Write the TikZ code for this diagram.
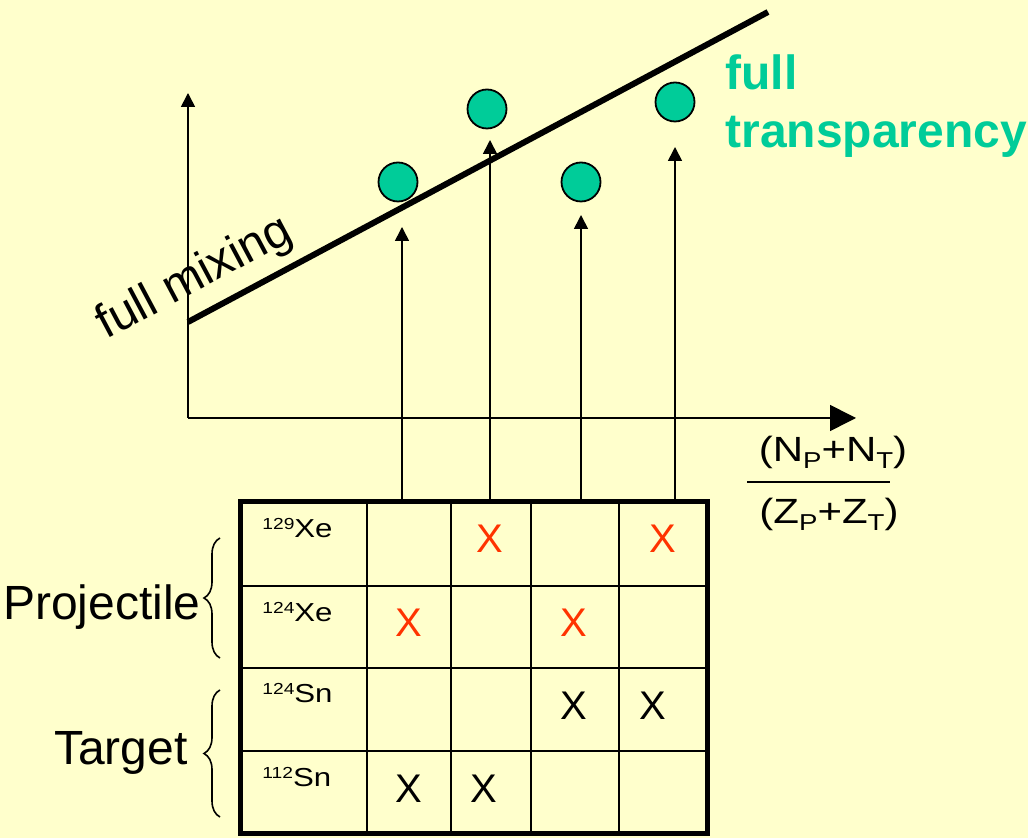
\documentclass[tikz,border=0pt]{standalone}
\usepackage{fontspec}
\setmainfont{Liberation Sans}
\newfontfamily\widefont{Liberation Sans}[FakeStretch=1.2]
\usetikzlibrary{arrows.meta,decorations.pathreplacing}
\definecolor{paleyellow}{HTML}{FFFFCC}
\definecolor{seagreen}{HTML}{00CC99}
\definecolor{xred}{HTML}{FF3300}
\newcommand{\iso}[2]{{\widefont\fontsize{8}{9}\selectfont\raisebox{4pt}{#1}}{\widefont\fontsize{13}{15}\selectfont #2}}
\newcommand{\sub}[1]{\raisebox{-3.5pt}{\fontsize{11.5}{13}\selectfont #1}}

\begin{document}
\begin{tikzpicture}[x=0.5pt,y=-0.5pt,
  bigtext/.style={font=\fontsize{24}{29}\selectfont,inner sep=0pt},
  frac/.style={font=\widefont\fontsize{17.5}{21}\selectfont,inner sep=0pt},
  cross/.style={font=\fontsize{20}{24}\selectfont,inner sep=0pt,anchor=base},
  dot/.style={circle,draw,line width=0.9pt,fill=seagreen,minimum size=19.5pt,inner sep=0pt},
  arr/.style={line width=0.8pt,-{Triangle[width=7pt,length=7pt]}}]
\fill[paleyellow] (0,0) rectangle (1028,838);

\coordinate (O) at (188,418);
\coordinate (ytop) at (188,93);
\coordinate (xend) at (856,418);
\draw[arr] (O) -- (ytop);
\draw[line width=0.8pt,-{Triangle[width=13pt,length=13pt]}] (O) -- (xend);

\coordinate (mixstart) at (188,322);
\coordinate (mixend) at (768,12);
\draw[line width=3pt] (mixstart) -- (mixend);
\node[bigtext,rotate=28,anchor=base west] (mixlbl) at (106,340) {full mixing};

\node[bigtext,anchor=base west,font=\bfseries\fontsize{24}{29}\selectfont,text=seagreen] (full) at (725,90) {full};
\node[bigtext,anchor=base west,font=\bfseries\fontsize{24}{29}\selectfont,text=seagreen] (transp) at (725,148) {transparency};

\foreach \x/\t [count=\i] in {402/227,490/140,581/215,675/147} {
  \coordinate (foot\i) at (\x,500);
  \coordinate (tip\i) at (\x,\t);
  \draw[arr] (foot\i) -- (tip\i);
}
\foreach \x/\y [count=\i] in {398/182,487/109,581/182,675/102}
  \node[dot] (dot\i) at (\x,\y) {};

\node[frac,anchor=base] (num) at (833,462) {(N\sub{P}+N\sub{T})};
\node[frac,anchor=base] (den) at (829,524) {(Z\sub{P}+Z\sub{T})};
\coordinate (barl) at (747,482);
\coordinate (barr) at (890,482);
\draw[line width=1pt] (barl) -- (barr);

\draw[line width=2.5pt] (240,502) rectangle (707,833);
\foreach \x in {367,451,531,619}
  \draw[line width=1pt] (\x,502) -- (\x,833);
\foreach \y in {586,668,751}
  \draw[line width=1pt] (240,\y) -- (707,\y);

\node[anchor=base west,inner sep=0pt] (xe129) at (262,538) {\iso{129}{Xe}};
\node[anchor=base west,inner sep=0pt] (xe124) at (262,622) {\iso{124}{Xe}};
\node[anchor=base west,inner sep=0pt] (sn124) at (262,703) {\iso{124}{Sn}};
\node[anchor=base west,inner sep=0pt] (sn112) at (262,787) {\iso{112}{Sn}};

\foreach \x/\y [count=\i] in {490/553,663/553,409/637,574/637}
  \node[cross,text=xred] (red\i) at (\x,\y) {X};
\foreach \x/\y [count=\i] in {574/720,653/720,409/803,484/803}
  \node[cross] (black\i) at (\x,\y) {X};

\node[bigtext,anchor=base east] (proj) at (201,620) {Projectile};
\node[bigtext,anchor=base east] (tgt) at (188,765) {Target};
\coordinate (pbot) at (220,658);
\coordinate (ptop) at (220,538);
\coordinate (tbot) at (220,817);
\coordinate (ttop) at (220,690);
\draw[decorate,decoration={brace,amplitude=8pt},line width=0.8pt] (pbot) -- (ptop);
\draw[decorate,decoration={brace,amplitude=8pt},line width=0.8pt] (tbot) -- (ttop);
\end{tikzpicture}
\end{document}
